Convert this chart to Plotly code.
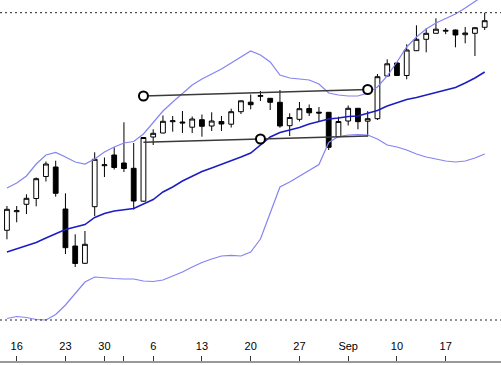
import plotly.graph_objects as go

day_idx = list(range(50))

opens = [16.97, 18.83, 19.57, 20.15, 22.35, 23.30, 19.10, 15.40, 13.67, 19.33,
         23.43, 24.50, 23.70, 23.17, 19.88, 26.30, 26.70, 27.83, 27.80, 27.28,
         28.03, 27.40, 27.85, 27.58, 28.83, 29.78, 30.36, 30.17, 29.77, 27.43,
         28.07, 29.15, 28.78, 28.77, 26.33, 27.90, 29.17, 27.88, 28.13, 32.40,
         33.70, 32.45, 34.93, 36.07, 36.67, 36.88, 37.00, 36.53, 36.67, 37.27]
highs = [19.40, 19.40, 20.57, 22.25, 23.85, 23.93, 20.67, 16.57, 16.90, 24.77,
         24.25, 25.27, 27.77, 25.70, 26.30, 27.07, 28.45, 28.40, 28.90, 28.35,
         28.55, 28.77, 28.40, 29.13, 29.95, 30.55, 30.90, 30.20, 31.00, 28.67,
         29.80, 29.55, 29.30, 28.80, 28.33, 29.45, 29.20, 28.88, 32.60, 34.07,
         33.80, 35.57, 37.47, 37.17, 38.17, 37.20, 37.05, 37.30, 37.25, 38.73]
lows = [16.07, 17.77, 18.60, 19.37, 21.85, 20.33, 14.60, 13.30, 13.60, 18.40,
        22.30, 23.05, 22.80, 19.05, 19.85, 25.50, 26.67, 26.83, 26.70, 26.70,
        26.33, 26.90, 26.90, 27.25, 28.60, 29.07, 29.90, 29.00, 27.23, 26.40,
        27.85, 28.40, 27.80, 25.00, 26.30, 27.45, 27.07, 26.33, 28.00, 32.37,
        32.43, 32.07, 34.90, 34.77, 36.65, 36.58, 35.27, 35.67, 34.40, 37.00]
closes = [19.07, 18.93, 20.17, 22.13, 23.60, 20.67, 15.23, 13.65, 15.57, 24.07,
          23.52, 23.25, 23.15, 19.90, 26.25, 26.67, 27.87, 27.92, 27.71, 28.10,
          27.37, 27.90, 27.60, 28.83, 29.92, 29.53, 30.45, 29.77, 27.40, 28.25,
          29.13, 28.72, 28.70, 25.27, 27.85, 29.17, 27.83, 28.13, 32.33, 33.62,
          32.45, 35.00, 36.07, 36.67, 37.08, 36.96, 36.50, 36.70, 37.23, 37.93]

bb_upper = [21.2, 21.7, 22.4, 23.6, 24.5, 24.75, 24.3, 23.8, 23.6, 24.1,
            24.8, 25.3, 25.7, 25.85, 26.6, 27.8, 28.9, 29.8, 30.7, 31.5,
            32.1, 32.6, 33.1, 33.7, 34.3, 34.9, 34.5, 33.8, 32.5, 32.2,
            32.1, 32.0, 31.6, 30.7, 30.5, 30.4, 30.4, 30.7, 31.3, 32.4,
            33.8, 35.3, 36.3, 37.1, 37.7, 38.15, 38.6, 39.2, 39.9, 40.5]
bb_mid = [14.8, 15.1, 15.4, 15.75, 16.2, 16.6, 17.05, 17.3, 17.55, 18.25,
          18.65, 18.9, 19.0, 19.15, 19.6, 20.05, 20.8, 21.3, 21.9, 22.4,
          22.85, 23.2, 23.55, 23.9, 24.3, 24.7, 25.5, 26.3, 26.75, 27.0,
          27.25, 27.6, 27.85, 28.1, 28.2, 28.35, 28.4, 28.7, 28.95, 29.4,
          29.75, 30.05, 30.25, 30.5, 30.7, 31.0, 31.25, 31.7, 32.2, 32.8]
bb_lower = [8.15, 8.35, 8.25, 8.05, 8.0, 8.55, 9.5, 10.7, 11.8, 12.3,
            12.2, 12.15, 12.1, 12.1, 11.9, 11.85, 12.0, 12.4, 12.8, 13.3,
            13.75, 14.1, 14.4, 14.47, 14.4, 14.8, 16.1, 18.7, 21.3, 21.8,
            22.4, 23.0, 23.55, 25.75, 26.35, 26.5, 26.55, 26.5, 26.1, 25.5,
            25.3, 25.0, 24.6, 24.3, 24.1, 23.9, 23.8, 23.9, 24.2, 24.6]

tick_pos = [1, 6, 10, 12, 15, 20, 25, 30, 35, 40, 45]
tick_text = ["16", "23", "30", "", "6", "13", "20", "27", "Sep", "10", "17"]

upper_trend_x = [14, 37]
upper_trend_y = [30.40, 31.05]
lower_trend_x = [14, 37]
lower_trend_y = [25.77, 26.40]
lower_anchor_x = [26]
lower_anchor_y = [26.10]

range_levels = [38.73, 8.0]

fig = go.Figure()

fig.add_trace(go.Candlestick(
    x=day_idx, open=opens, high=highs, low=lows, close=closes,
    increasing=dict(line=dict(color="black", width=1), fillcolor="white"),
    decreasing=dict(line=dict(color="black", width=1), fillcolor="black"),
    whiskerwidth=0, hoverinfo="skip"))

fig.add_trace(go.Scatter(x=day_idx, y=bb_upper, mode="lines",
                         line=dict(color="#8484f2", width=1.2), hoverinfo="skip"))
fig.add_trace(go.Scatter(x=day_idx, y=bb_lower, mode="lines",
                         line=dict(color="#8484f2", width=1.2), hoverinfo="skip"))
fig.add_trace(go.Scatter(x=day_idx, y=bb_mid, mode="lines",
                         line=dict(color="#1c1cc4", width=1.5), hoverinfo="skip"))

circle = dict(symbol="circle", size=9, color="white", line=dict(color="black", width=2))
fig.add_trace(go.Scatter(x=lower_trend_x, y=lower_trend_y, mode="lines",
                         line=dict(color="#3a3a3a", width=1.5), hoverinfo="skip"))
fig.add_trace(go.Scatter(x=lower_anchor_x, y=lower_anchor_y, mode="markers",
                         marker=circle, hoverinfo="skip"))
fig.add_trace(go.Scatter(x=upper_trend_x, y=upper_trend_y, mode="lines+markers",
                         line=dict(color="#3a3a3a", width=1.5), marker=circle,
                         hoverinfo="skip"))

for lvl in range_levels:
    fig.add_shape(type="line", xref="paper", x0=0, x1=1, yref="y", y0=lvl, y1=lvl,
                  line=dict(color="#222222", width=1, dash="2px,3px"))

fig.update_layout(
    width=501, height=365,
    margin=dict(l=0, r=0, t=0, b=4),
    paper_bgcolor="white", plot_bgcolor="white",
    showlegend=False,
    xaxis=dict(range=[-0.713, 50.672], tickvals=tick_pos, ticktext=tick_text,
               ticks="inside", ticklen=5, tickcolor="#333333", tickwidth=1,
               ticklabelposition="inside", ticklabelstandoff=3,
               showgrid=False, zeroline=False,
               showline=True, linecolor="#999999", linewidth=1.5, automargin=False,
               tickfont=dict(family="Liberation Sans, Arial, sans-serif", size=11, color="#000000"),
               rangeslider=dict(visible=False)),
    yaxis=dict(range=[3.9, 40.0], visible=False, showgrid=False, zeroline=False,
               automargin=False),
)

fig.write_html("out.html", config={"displayModeBar": False},
               post_script="document.body.style.margin='0px';document.body.style.overflow='hidden';")
